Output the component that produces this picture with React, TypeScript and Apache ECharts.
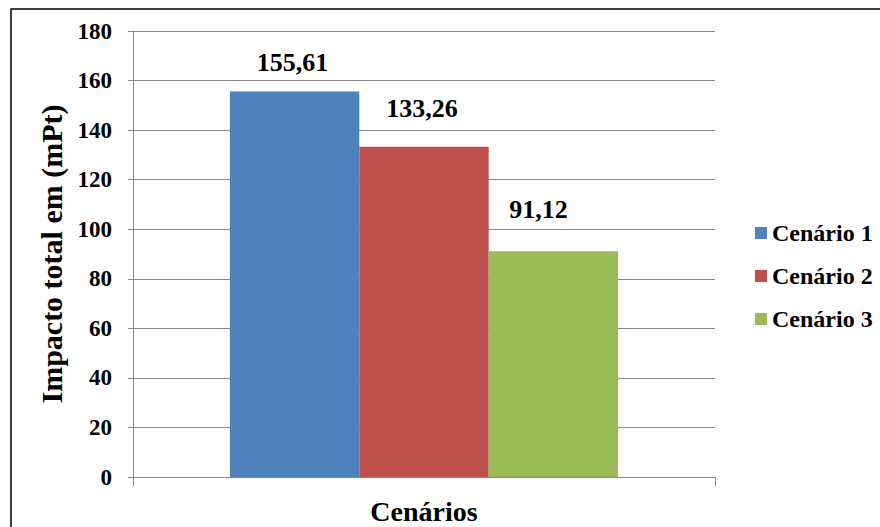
import React, { useEffect, useRef } from "react";
import * as echarts from "echarts";

const categories = [""];
const seriesNames = ["Cenário 1", "Cenário 2", "Cenário 3"];
const seriesValues = [155.61, 133.26, 91.12];
const seriesColors = ["#4F81BD", "#C0504D", "#9BBB59"];
const yTicks = { min: 0, max: 180, interval: 20 };
const labelDistances = [16, 25, 29];
const labelOffsetsX = [-2, -2, -15];

const FONT = "Liberation Serif";

export default function App() {
  const ref = useRef<HTMLDivElement>(null);
  useEffect(() => {
    if (!ref.current) return;
    const chart = echarts.init(ref.current, undefined, { renderer: "svg" });
    chart.setOption({
      animation: false,
      backgroundColor: "#ffffff",
      textStyle: { fontFamily: FONT },
      graphic: [
        {
          type: "rect",
          shape: { x: 11, y: 9, width: 900, height: 600 },
          style: { fill: "none", stroke: "#000", lineWidth: 1.5 },
          z: -10,
        },
      ],
      grid: {
        left: 133,
        right: 165,
        top: 31,
        bottom: 50,
        containLabel: false,
        outerBoundsMode: "none",
      },
      legend: {
        orient: "vertical",
        left: 755,
        top: 221,
        padding: 0,
        itemWidth: 12,
        itemHeight: 12,
        itemGap: 19,
        icon: "rect",
        textStyle: {
          fontFamily: FONT,
          fontWeight: "bold",
          fontSize: 24,
          lineHeight: 24,
          color: "#000",
        },
        data: seriesNames,
      },
      xAxis: {
        type: "category",
        data: categories,
        name: "Cenários",
        nameLocation: "middle",
        nameGap: 20,
        nameTextStyle: { fontFamily: FONT, fontWeight: "bold", fontSize: 28, color: "#000" },
        axisLine: { lineStyle: { color: "#888", width: 1 } },
        axisTick: { show: true, length: 9, lineStyle: { color: "#888" } },
        axisLabel: { show: false },
      },
      yAxis: {
        type: "value",
        min: yTicks.min,
        max: yTicks.max,
        interval: yTicks.interval,
        name: "Impacto total em (mPt)",
        nameLocation: "middle",
        nameGap: 66,
        nameTextStyle: { fontFamily: FONT, fontWeight: "bold", fontSize: 30, color: "#000" },
        axisLine: { show: true, lineStyle: { color: "#888", width: 1 } },
        axisTick: { show: true, length: 5, lineStyle: { color: "#888" } },
        axisLabel: { margin: 21, fontFamily: FONT, fontWeight: "bold", fontSize: 23, color: "#000" },
        splitLine: { show: true, lineStyle: { color: "#888", width: 1 } },
      },
      series: seriesNames.map((name, i) => ({
        name,
        type: "bar",
        data: [seriesValues[i]],
        barGap: "0%",
        barCategoryGap: "33.3%",
        itemStyle: { color: seriesColors[i] },
        label: {
          show: true,
          position: "top",
          distance: labelDistances[i],
          offset: [labelOffsetsX[i], 0],
          fontFamily: FONT,
          fontWeight: "bold",
          fontSize: 26,
          color: "#000",
          formatter: (p: any) => p.value.toFixed(2).replace(".", ","),
        },
      })),
    });
    return () => chart.dispose();
  }, []);
  return (
    <div
      ref={ref}
      style={{ position: "fixed", left: 0, top: 0, width: 880, height: 527 }}
    />
  );
}
